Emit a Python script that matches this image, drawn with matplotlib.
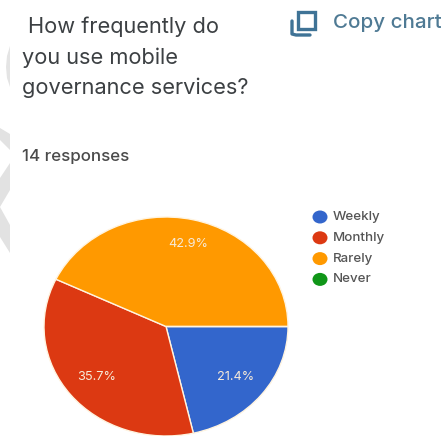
import matplotlib
matplotlib.use("Agg")
import matplotlib.pyplot as plt
from matplotlib.patches import Ellipse, Polygon, Rectangle

W, H = 441, 436

categories = ["Weekly", "Monthly", "Rarely", "Never"]
values = [21.4, 35.7, 42.9, 0.0]
pie_colors = ["#3366cc", "#dc3912", "#ff9900", "#109618"]
title_lines = ["How frequently do", "you use mobile", "governance services?"]
responses = "14 responses"
copy_label = "Copy chart"

plt.rcParams["font.family"] = ["Inter", "DejaVu Sans"]

fig = plt.figure(figsize=(W / 100, H / 100), dpi=100)

# full-figure axes in pixel units for text and decoration
bg = fig.add_axes([0, 0, 1, 1])
bg.set_xlim(0, W)
bg.set_ylim(H, 0)
bg.axis("off")

# pale watermark shapes on the left edge
bg.add_patch(Polygon([(10, 46), (7, 56), (6, 67), (7, 78), (10, 87)], fc="#e4e4e4", ec="none"))
bg.add_patch(Polygon([(0, 128), (10, 134), (10, 150), (0, 140)], fc="#e2e2e2", ec="none"))
bg.add_patch(Polygon([(10, 163), (0, 178), (0, 207), (10, 190)], fc="#e2e2e2", ec="none"))
bg.add_patch(Polygon([(0, 207), (10, 225), (10, 253), (0, 237)], fc="#e2e2e2", ec="none"))

for i, line in enumerate(title_lines):
    x = 28 if i == 0 else 22
    bg.text(x, 27 + i * 30.5, line, fontsize=15.7, color="#3c4043", va="center", ha="left")
bg.text(22, 156, responses, fontsize=12.2, color="#4a4a4a", va="center", ha="left", fontweight="medium")

# copy icon: front square and the L shaped back sheet
bg.add_patch(Rectangle((298, 12), 17, 17, fc="none", ec="#3f7396", lw=2.4))
bg.plot([292, 292, 296, 310], [21, 34, 35, 35], color="#3f7396", lw=2.4, solid_capstyle="round")
bg.text(333, 23, copy_label, fontsize=14.8, color="#4f7a94", va="center", ha="left", fontweight="medium")

# legend
for i, (name, col) in enumerate(zip(categories, pie_colors)):
    y = 217 + i * 20.8
    bg.add_patch(Ellipse((320, y), 15, 13, fc=col, ec="none"))
    bg.text(333, y, name, fontsize=9.6, color="#555555", va="center", ha="left", fontweight="medium")

# pie, squashed a little and running off the bottom edge
left, right, top, bottom = 44, 288, 217, 436
ax = fig.add_axes([left / W, 1 - bottom / H, (right - left) / W, (bottom - top) / H])
wedges, _ = ax.pie(values, colors=pie_colors, startangle=0, counterclock=False, radius=1.0,
                   wedgeprops=dict(edgecolor="#fff4e0", linewidth=1.0))
ax.set_aspect("auto")
ax.set_xlim(-1, 1)
ax.set_ylim(-1, 1)

# percentage labels in pixel positions
label_pos = [(236, 377), (97, 377), (188, 244)]
for (x, y), v in zip(label_pos, values[:3]):
    bg.text(x, y, f"{v}%", fontsize=9.2, color="#f7ead8", va="center", ha="center", zorder=10)
bg.set_zorder(2)
bg.patch.set_alpha(0)

fig.savefig("out.png", dpi=100)
